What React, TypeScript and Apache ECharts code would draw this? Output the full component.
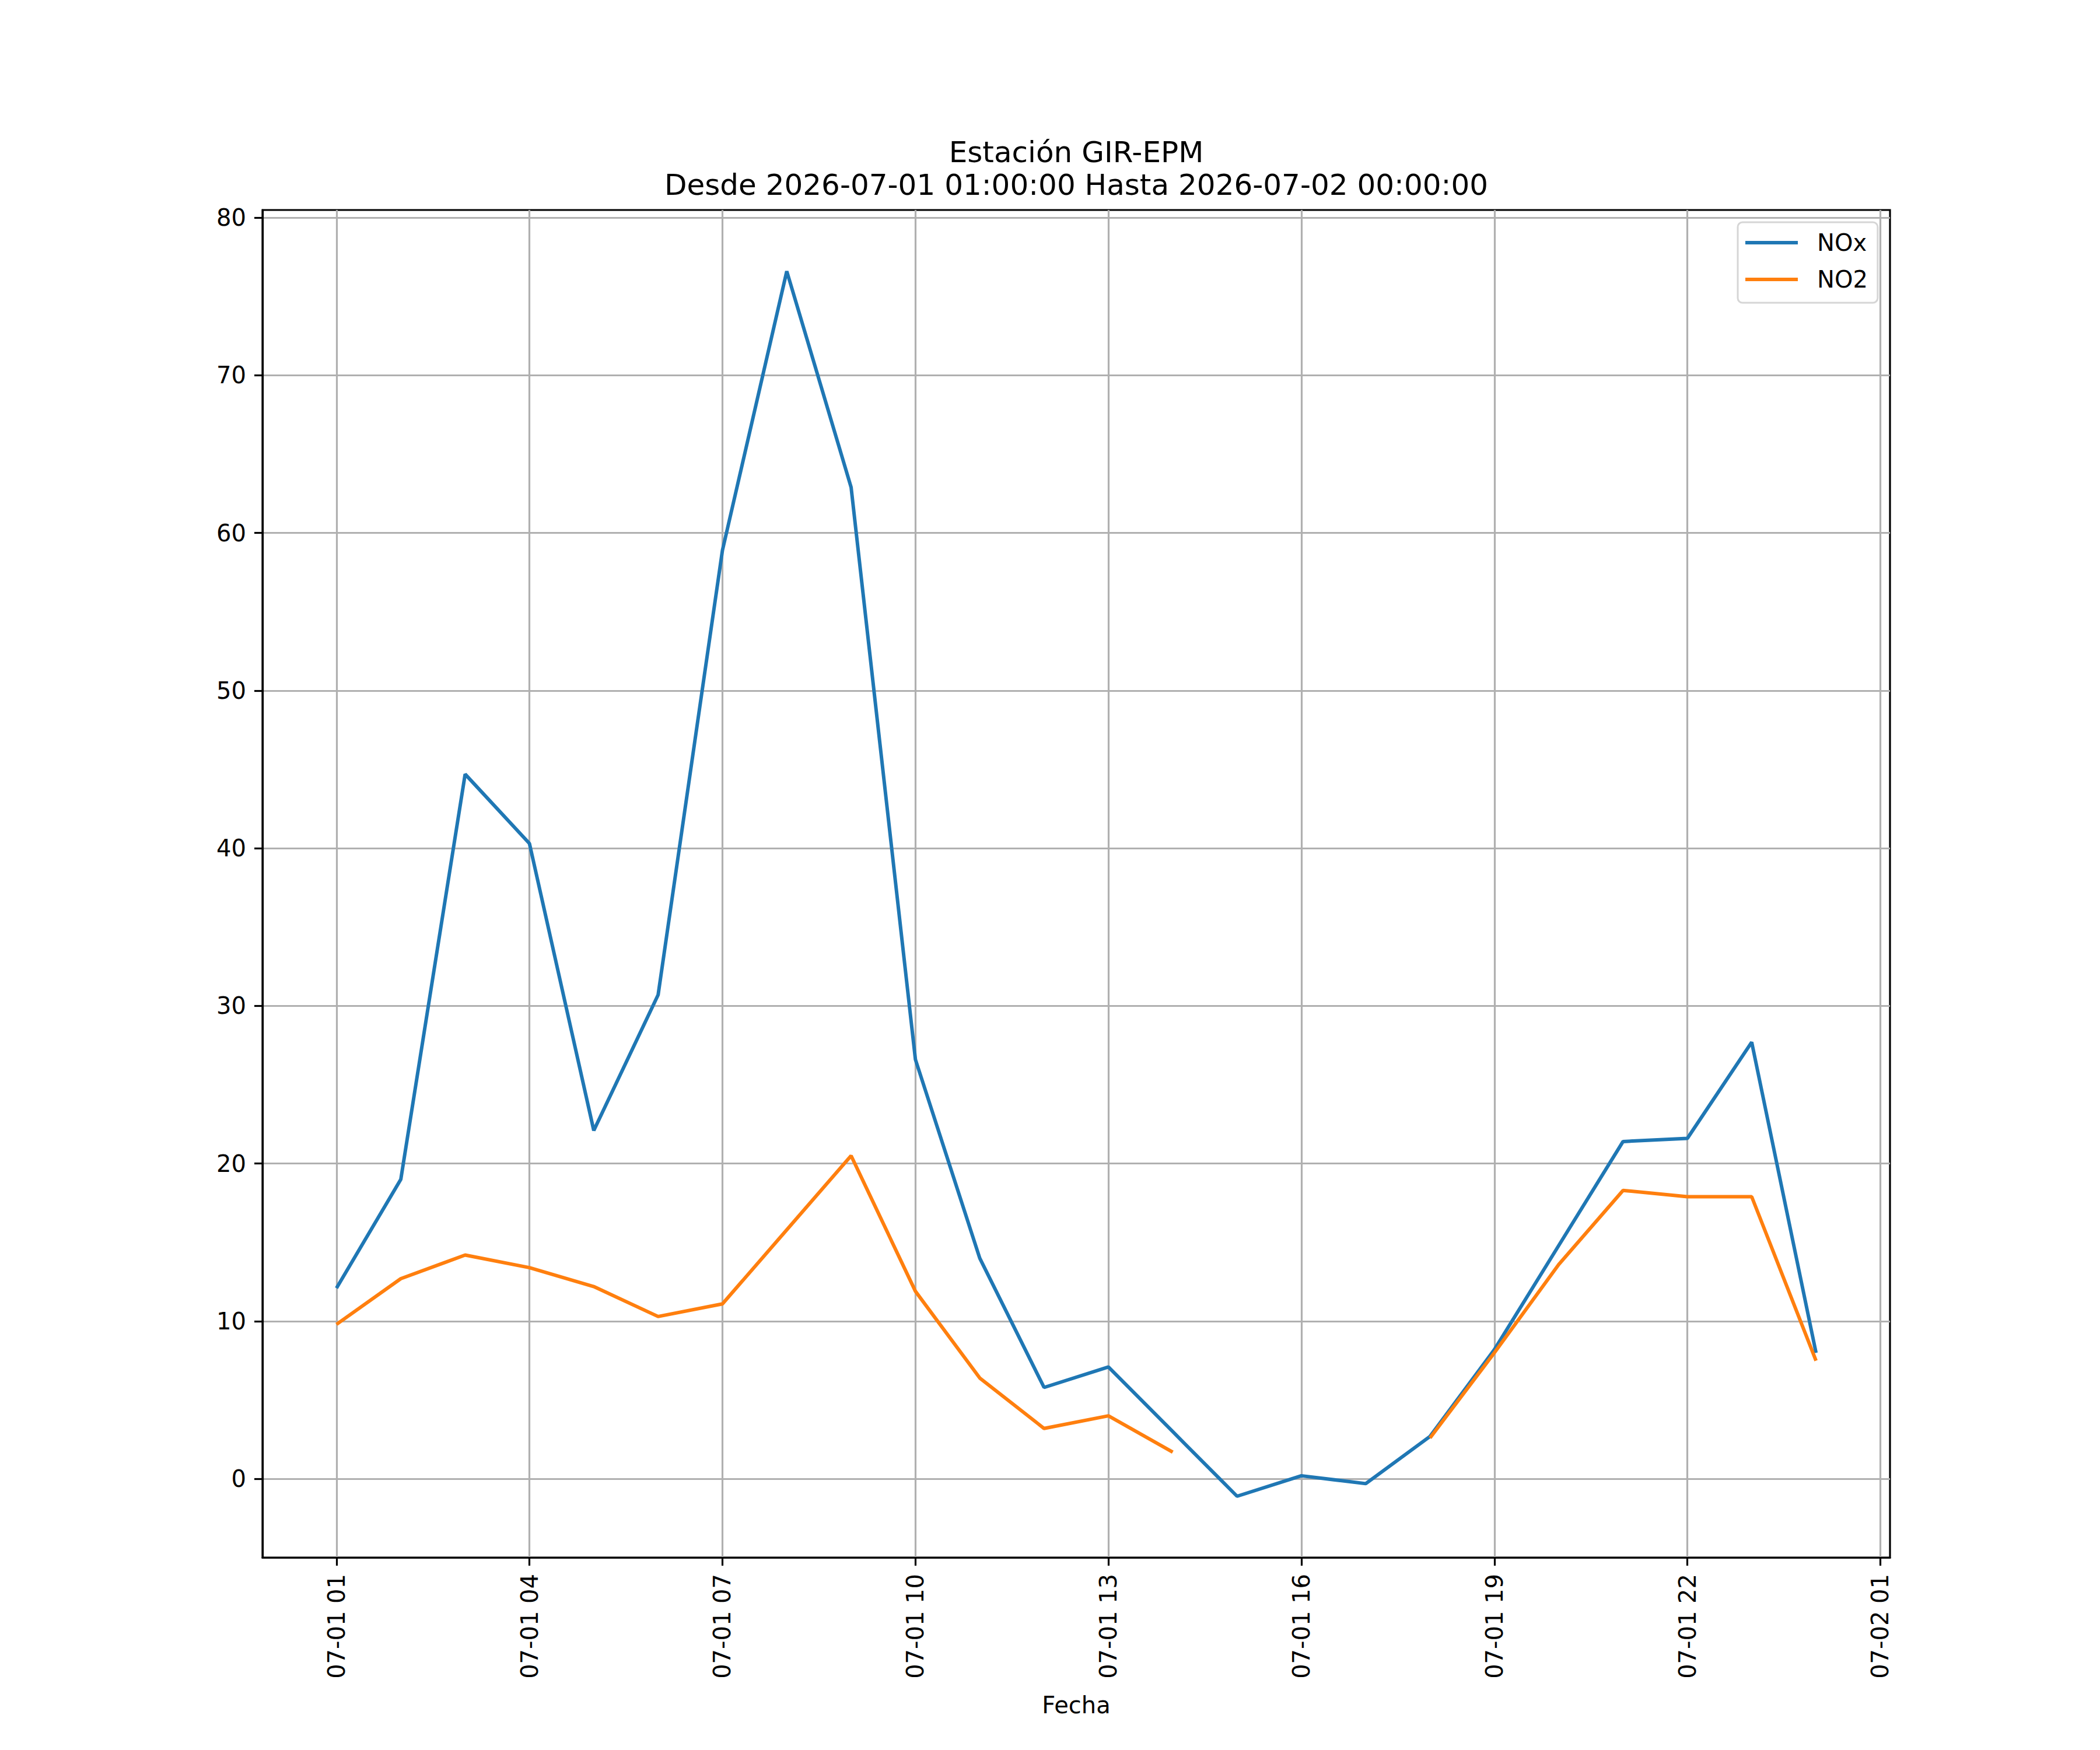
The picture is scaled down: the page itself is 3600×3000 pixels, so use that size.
import React, { useEffect, useRef } from 'react';
import * as echarts from 'echarts';

// horas del 2026-07-01 (24 = 2026-07-02 00:00)
const hours = [1, 2, 3, 4, 5, 6, 7, 8, 9, 10, 11, 12, 13, 14, 15, 16, 17, 18, 19, 20, 21, 22, 23, 24];
const noxValues = [12.1, 19.0, 44.7, 40.3, 22.1, 30.7, 58.9, 76.6, 62.9, 26.6, 14.0, 5.8, 7.1, 3.0, -1.1, 0.2, -0.3, 2.7, 8.2, 14.8, 21.4, 21.6, 27.7, 8.0];
const no2Values = [9.8, 12.7, 14.2, 13.4, 12.2, 10.3, 11.1, 15.8, 20.5, 11.9, 6.4, 3.2, 4.0, 1.7, null, null, null, 2.6, 8.0, 13.6, 18.3, 17.9, 17.9, 7.5];

const xTickHours = [1, 4, 7, 10, 13, 16, 19, 22, 25];
const xTickLabels = ['07-01 01', '07-01 04', '07-01 07', '07-01 10', '07-01 13', '07-01 16', '07-01 19', '07-01 22', '07-02 01'];
const yTicks = [0, 10, 20, 30, 40, 50, 60, 70, 80];

const titleLines = ['Estación GIR-EPM', 'Desde 2026-07-01 01:00:00 Hasta 2026-07-02 00:00:00'];

const FONT = 'DejaVu Sans';

const App: React.FC = () => {
  const chartRef = useRef<HTMLDivElement>(null);

  useEffect(() => {
    if (!chartRef.current) return;
    const chart = echarts.init(chartRef.current, null, { renderer: 'svg' });

    // margen 5% como matplotlib
    const xPad = (hours[hours.length - 1] - hours[0]) * 0.05;
    const allY = [...noxValues, ...no2Values].filter((v): v is number => v !== null);
    const yLo = Math.min(...allY);
    const yHi = Math.max(...allY);
    const yPad = (yHi - yLo) * 0.05;

    const toPairs = (vals: (number | null)[]) =>
      hours.map((h, i) => [h, vals[i] === null ? '-' : vals[i]]);

    const gridLine = { show: true, lineStyle: { color: '#b0b0b0', width: 3.2 } };

    chart.setOption({
      animation: false,
      backgroundColor: '#ffffff',
      title: {
        text: titleLines.join('\n'),
        left: 1845,
        top: 233,
        padding: 0,
        textAlign: 'center',
        textStyle: { fontFamily: FONT, fontSize: 50, fontWeight: 'normal', color: '#000', lineHeight: 56 },
      },
      legend: {
        orient: 'vertical',
        left: 2979,
        top: 381,
        padding: [15, 17, 20, 13],
        itemWidth: 90,
        itemHeight: 6,
        itemGap: 23,
        icon: 'rect',
        backgroundColor: '#ffffff',
        borderColor: '#d6d6d6',
        borderWidth: 3,
        borderRadius: 8,
        textStyle: { fontFamily: FONT, fontSize: 40, color: '#000', lineHeight: 40, padding: [0, 0, 0, 28] },
        data: ['NOx', 'NO2'],
      },
      grid: {
        left: 450,
        top: 360,
        width: 2790,
        height: 2310,
        show: true,
        borderColor: '#000',
        borderWidth: 3.2,
        backgroundColor: 'transparent',
      },
      xAxis: {
        type: 'value',
        min: hours[0] - xPad,
        max: hours[hours.length - 1] + xPad,
        name: 'Fecha',
        nameLocation: 'middle',
        nameGap: 233,
        nameTextStyle: { fontFamily: FONT, fontSize: 40, color: '#000', verticalAlign: 'top' },
        axisLine: { show: true, onZero: false, lineStyle: { color: '#000', width: 3.2 } },
        axisTick: { show: true, length: 14, customValues: xTickHours, lineStyle: { color: '#000', width: 3.2 } },
        axisLabel: {
          show: true,
          rotate: 90,
          margin: 28,
          customValues: xTickHours,
          fontFamily: FONT,
          fontSize: 40,
          color: '#000',
          formatter: (v: number) => xTickLabels[xTickHours.indexOf(Math.round(v))] ?? '',
        },
        splitLine: { ...gridLine, customValues: xTickHours },
      },
      yAxis: {
        type: 'value',
        min: yLo - yPad,
        max: yHi + yPad,
        axisLine: { show: true, onZero: false, lineStyle: { color: '#000', width: 3.2 } },
        axisTick: { show: true, length: 14, customValues: yTicks, lineStyle: { color: '#000', width: 3.2 } },
        axisLabel: {
          show: true,
          margin: 28,
          customValues: yTicks,
          fontFamily: FONT,
          fontSize: 40,
          color: '#000',
          formatter: (v: number) => String(Math.round(v)),
        },
        splitLine: { ...gridLine, customValues: yTicks },
      },
      series: [
        {
          name: 'NOx',
          type: 'line',
          data: toPairs(noxValues),
          showSymbol: false,
          connectNulls: false,
          color: '#1f77b4',
          lineStyle: { color: '#1f77b4', width: 6 },
        },
        {
          name: 'NO2',
          type: 'line',
          data: toPairs(no2Values),
          showSymbol: false,
          connectNulls: false,
          color: '#ff7f0e',
          lineStyle: { color: '#ff7f0e', width: 6 },
        },
      ],
    });

    return () => {
      chart.dispose();
    };
  }, []);

  return (
    <div
      ref={chartRef}
      style={{ position: 'absolute', left: 0, top: 0, width: 3600, height: 3000, background: '#fff' }}
    />
  );
};

export default App;
